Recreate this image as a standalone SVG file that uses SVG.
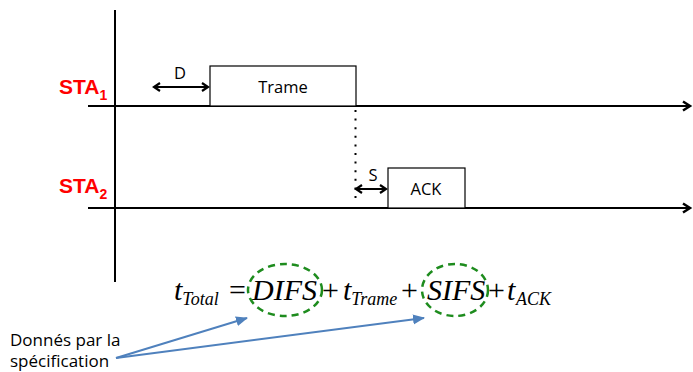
<svg xmlns="http://www.w3.org/2000/svg" width="693" height="372" viewBox="0 0 693 372">
<style>
.ax{stroke:#000;stroke-width:2;fill:none}
.box{fill:#fff;stroke:#000;stroke-width:1.2}
.lbl{font-family:"Open Sans","Liberation Sans",sans-serif;font-size:16.5px;fill:#000}
.note{font-family:"Open Sans","Liberation Sans",sans-serif;font-size:17px;fill:#000}
.sta{font-family:"Liberation Sans",sans-serif;font-weight:bold;font-size:21px;fill:#ff0000}
.sub{font-size:14px}
.eq{font-family:"Liberation Serif",serif;font-style:italic;fill:#000}
.ell{fill:none;stroke:#1e8c1e;stroke-width:2.5;stroke-dasharray:7 5}
.blue{stroke:#4f81bd;stroke-width:2;fill:none}
</style>
<defs>
<marker id="ah" markerWidth="12" markerHeight="12" refX="9" refY="6" orient="auto" markerUnits="userSpaceOnUse">
<path d="M2,1.5 L9,6 L2,10.5" fill="none" stroke="#000" stroke-width="2.5"/>
</marker>
<marker id="ahs" markerWidth="12" markerHeight="12" refX="9" refY="6" orient="auto-start-reverse" markerUnits="userSpaceOnUse">
<path d="M3,2 L9,6 L3,10" fill="none" stroke="#000" stroke-width="2.2"/>
</marker>
<marker id="bh" markerWidth="14" markerHeight="12" refX="11" refY="6" orient="auto" markerUnits="userSpaceOnUse">
<path d="M0,1 L12,6 L0,11 Z" fill="#4f81bd"/>
</marker>
</defs>
<g id="axes">
<line class="ax" x1="115" y1="10" x2="115" y2="282"/>
<line class="ax" x1="88" y1="106" x2="690" y2="106" marker-end="url(#ah)"/>
<line class="ax" x1="88" y1="208" x2="690" y2="208" marker-end="url(#ah)"/>
</g>
<g id="sta1"><text class="sta" x="59" y="94">STA<tspan class="sub" dy="6">1</tspan></text></g>
<g id="sta2"><text class="sta" x="59" y="193">STA<tspan class="sub" dy="6">2</tspan></text></g>
<g id="trame">
<rect class="box" x="210" y="66" width="146" height="40"/>
<text class="lbl" x="283" y="93" text-anchor="middle">Trame</text>
</g>
<g id="ack">
<rect class="box" x="388" y="168" width="77" height="40"/>
<text class="lbl" x="426" y="195" text-anchor="middle">ACK</text>
</g>
<g id="connectors">
<line x1="154" y1="87" x2="208" y2="87" stroke="#000" stroke-width="2" marker-start="url(#ahs)" marker-end="url(#ahs)"/>
<line x1="356" y1="189" x2="386" y2="189" stroke="#000" stroke-width="2" marker-start="url(#ahs)" marker-end="url(#ahs)"/>
<line x1="355.5" y1="110" x2="355.5" y2="202" stroke="#000" stroke-width="2" stroke-dasharray="2 6.6"/>
<line class="blue" x1="116" y1="358" x2="247" y2="318" marker-end="url(#bh)"/>
<line class="blue" x1="116" y1="358" x2="424" y2="318" marker-end="url(#bh)"/>
</g>
<text class="lbl" x="180" y="79" text-anchor="middle">D</text>
<text class="lbl" x="373" y="181" text-anchor="middle">S</text>
<g id="equation">
<text class="eq" font-size="30" x="174" y="300">t<tspan font-size="18" dy="5">Total</tspan><tspan font-style="normal" dy="-5" x="229">=</tspan><tspan x="252">DIFS</tspan><tspan font-style="normal" x="322">+</tspan><tspan x="343">t</tspan><tspan font-size="18" dy="5">Trame</tspan><tspan font-style="normal" dy="-5" x="401">+</tspan><tspan x="427">SIFS</tspan><tspan font-style="normal" x="488">+</tspan><tspan x="507">t</tspan><tspan font-size="18" dy="5" x="516">ACK</tspan></text>
</g>
<g id="ellipses">
<ellipse class="ell" cx="285" cy="290" rx="37" ry="26"/>
<ellipse class="ell" cx="455" cy="290" rx="33" ry="26"/>
</g>
<g id="note">
<text class="note" x="10" y="346">Donnés par la</text>
<text class="note" x="10" y="367">spécification</text>
</g>
</svg>
